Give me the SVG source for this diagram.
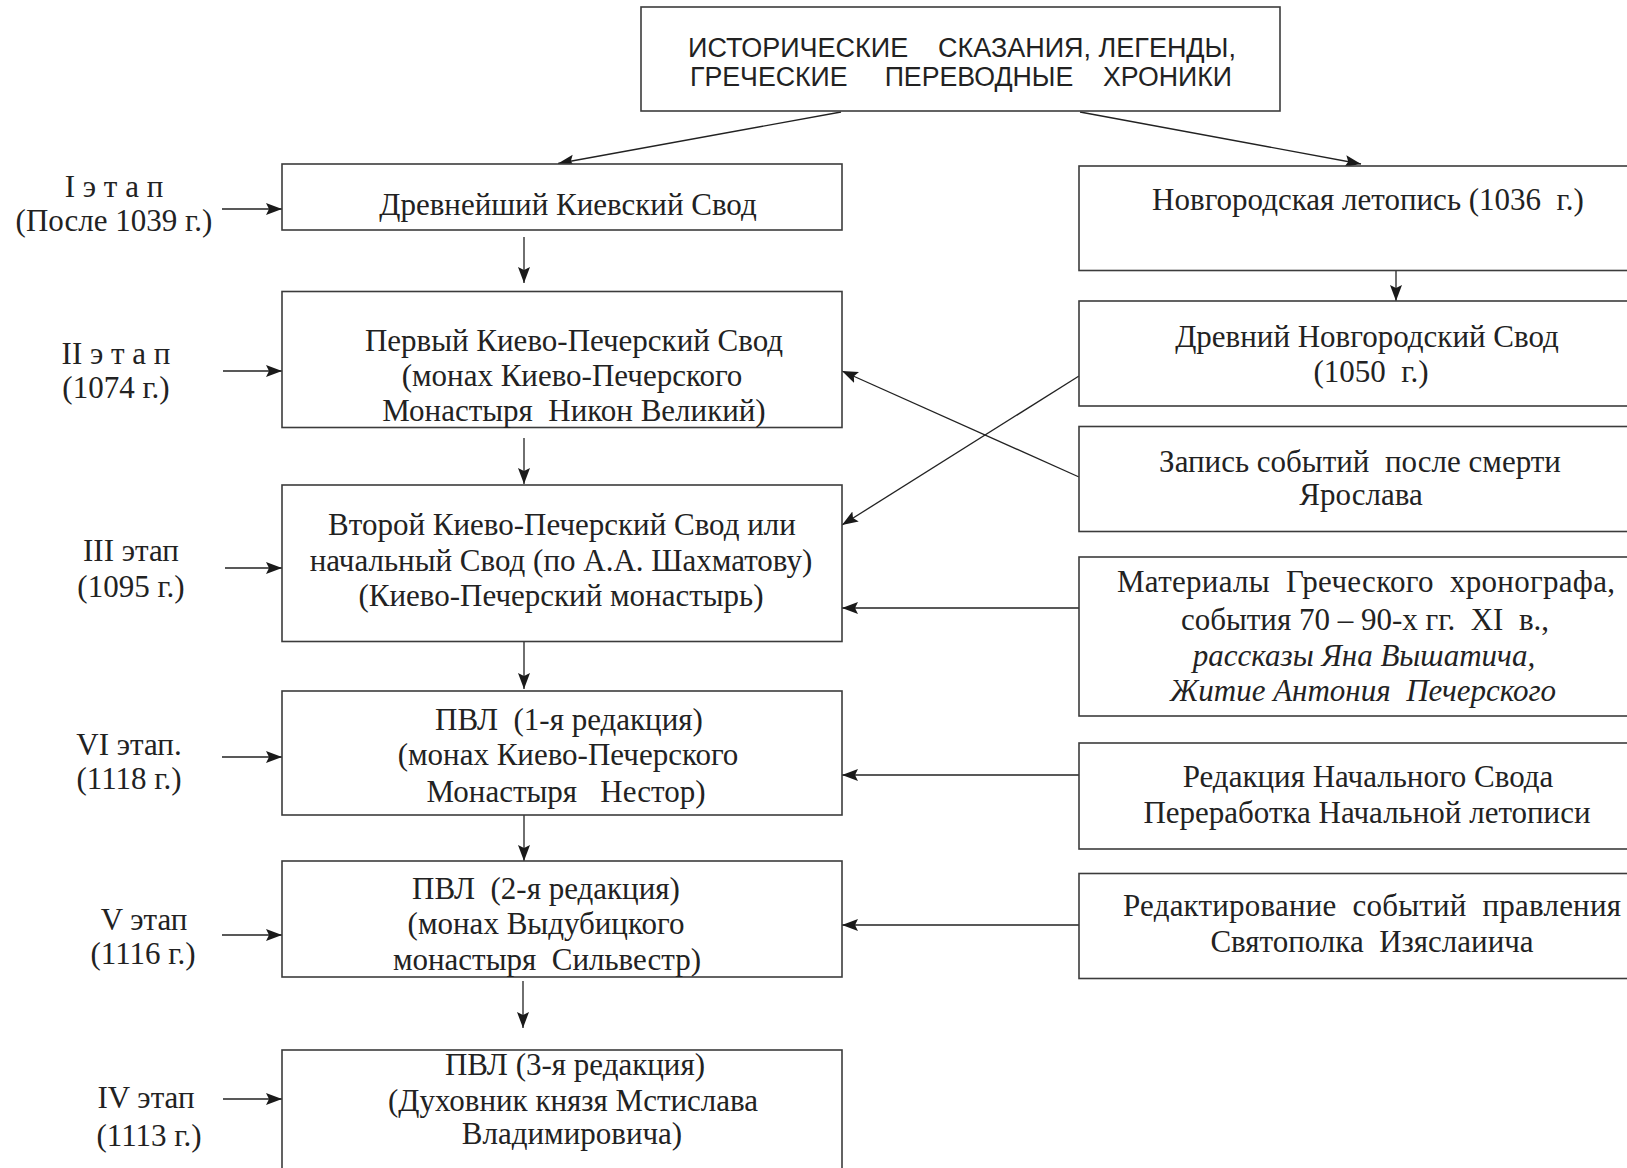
<svg xmlns="http://www.w3.org/2000/svg" width="1627" height="1168" viewBox="0 0 1627 1168">
<style>
.box{fill:#fff;stroke:#3c3c3c;stroke-width:1.6}
.t{font-family:"Liberation Serif","Times New Roman",serif;font-size:31px;fill:#222;text-anchor:middle}
.i{font-style:italic}
.s{font-family:"Liberation Sans",Arial,sans-serif;font-size:27px;fill:#222;text-anchor:middle}
.c{stroke:#222;stroke-width:1.3;fill:none;marker-end:url(#ah)}
</style>
<defs>
<marker id="ah" markerUnits="userSpaceOnUse" markerWidth="17" markerHeight="13" refX="16" refY="6" orient="auto" viewBox="0 0 17 13">
<path d="M0,0 L16,6 L0,12 L3,6 z" fill="#1a1a1a"/>
</marker>
</defs>
<rect width="1627" height="1168" fill="#fff"/>

<g id="connectors">
<line class="c" x1="841" y1="112" x2="558" y2="163.5"/>
<line class="c" x1="1080" y1="112" x2="1361" y2="164"/>
<line class="c" x1="222" y1="209" x2="282" y2="209"/>
<line class="c" x1="223" y1="371" x2="282" y2="371"/>
<line class="c" x1="225" y1="568" x2="282" y2="568"/>
<line class="c" x1="222" y1="757" x2="282" y2="757"/>
<line class="c" x1="222" y1="935" x2="282" y2="935"/>
<line class="c" x1="223" y1="1099" x2="282" y2="1099"/>
<line class="c" x1="524" y1="237" x2="524" y2="283"/>
<line class="c" x1="524" y1="438" x2="524" y2="484"/>
<line class="c" x1="524" y1="642" x2="524" y2="689"/>
<line class="c" x1="524" y1="815" x2="524" y2="861"/>
<line class="c" x1="523" y1="981" x2="523" y2="1028"/>
<line class="c" x1="1396" y1="271" x2="1396" y2="301"/>
<line class="c" x1="1079" y1="477" x2="842" y2="371"/>
<line class="c" x1="1079" y1="376" x2="842" y2="525"/>
<line class="c" x1="1079" y1="608" x2="842" y2="608"/>
<line class="c" x1="1079" y1="775" x2="842" y2="775"/>
<line class="c" x1="1079" y1="925" x2="842" y2="925"/>
</g>

<g id="top">
<rect class="box" x="641" y="7" width="639" height="104"/>
<text class="s" x="962" y="57" textLength="548" lengthAdjust="spacingAndGlyphs" xml:space="preserve">ИСТОРИЧЕСКИЕ    СКАЗАНИЯ, ЛЕГЕНДЫ,</text>
<text class="s" x="961" y="86" textLength="542" lengthAdjust="spacingAndGlyphs" xml:space="preserve">ГРЕЧЕСКИЕ     ПЕРЕВОДНЫЕ    ХРОНИКИ</text>
</g>

<g id="label1">
<text class="t" x="114" y="197" xml:space="preserve">I э т а п</text>
<text class="t" x="114" y="231">(После 1039 г.)</text>
</g>
<g id="label2">
<text class="t" x="116" y="364" xml:space="preserve">II э т а п</text>
<text class="t" x="116" y="398">(1074 г.)</text>
</g>
<g id="label3">
<text class="t" x="131" y="561">III этап</text>
<text class="t" x="131" y="597">(1095 г.)</text>
</g>
<g id="label6">
<text class="t" x="129" y="755">VI этап.</text>
<text class="t" x="129" y="789">(1118 г.)</text>
</g>
<g id="label5">
<text class="t" x="144" y="930">V этап</text>
<text class="t" x="143" y="964">(1116 г.)</text>
</g>
<g id="label4">
<text class="t" x="146" y="1108">IV этап</text>
<text class="t" x="149" y="1146">(1113 г.)</text>
</g>

<g id="kiev-ancient">
<rect class="box" x="282" y="164" width="560" height="66"/>
<text class="t" x="568" y="215">Древнейший Киевский Свод</text>
</g>
<g id="kiev-first">
<rect class="box" x="282" y="291.5" width="560" height="136"/>
<text class="t" x="574" y="351">Первый Киево-Печерский Свод</text>
<text class="t" x="572" y="386">(монах Киево-Печерского</text>
<text class="t" x="574" y="421" xml:space="preserve">Монастыря  Никон Великий)</text>
</g>
<g id="kiev-second">
<rect class="box" x="282" y="485" width="560" height="156.5"/>
<text class="t" x="562" y="535">Второй Киево-Печерский Свод или</text>
<text class="t" x="561" y="571">начальный Свод (по А.А. Шахматову)</text>
<text class="t" x="561" y="606">(Киево-Печерский монастырь)</text>
</g>
<g id="pvl1">
<rect class="box" x="282" y="691" width="560" height="124"/>
<text class="t" x="569" y="730" xml:space="preserve">ПВЛ  (1-я редакция)</text>
<text class="t" x="568" y="765">(монах Киево-Печерского</text>
<text class="t" x="566" y="802" xml:space="preserve">Монастыря   Нестор)</text>
</g>
<g id="pvl2">
<rect class="box" x="282" y="861" width="560" height="116"/>
<text class="t" x="546" y="899" xml:space="preserve">ПВЛ  (2-я редакция)</text>
<text class="t" x="546" y="934">(монах Выдубицкого</text>
<text class="t" x="547" y="970" xml:space="preserve">монастыря  Сильвестр)</text>
</g>
<g id="pvl3">
<rect class="box" x="282" y="1050" width="560" height="140"/>
<text class="t" x="575" y="1075">ПВЛ (3-я редакция)</text>
<text class="t" x="573" y="1111">(Духовник князя Мстислава</text>
<text class="t" x="572" y="1144">Владимировича)</text>
</g>

<g id="novgorod-chronicle">
<rect class="box" x="1079" y="166" width="620" height="104.5"/>
<text class="t" x="1368" y="210" xml:space="preserve">Новгородская летопись (1036  г.)</text>
</g>
<g id="novgorod-ancient">
<rect class="box" x="1079" y="301" width="620" height="105"/>
<text class="t" x="1367" y="347">Древний Новгородский Свод</text>
<text class="t" x="1371" y="382" xml:space="preserve">(1050  г.)</text>
</g>
<g id="yaroslav">
<rect class="box" x="1079" y="426.5" width="620" height="105"/>
<text class="t" x="1360" y="472" xml:space="preserve">Запись событий  после смерти</text>
<text class="t" x="1361" y="505">Ярослава</text>
</g>
<g id="materials">
<rect class="box" x="1079" y="557" width="620" height="159"/>
<text class="t" x="1366" y="592" textLength="498" lengthAdjust="spacing" xml:space="preserve">Материалы  Греческого  хронографа,</text>
<text class="t" x="1365" y="630" xml:space="preserve">события 70 – 90-х гг.  XI  в.,</text>
<text class="t i" x="1364" y="666">рассказы Яна Вышатича,</text>
<text class="t i" x="1363" y="701" xml:space="preserve">Житие Антония  Печерского</text>
</g>
<g id="redaction">
<rect class="box" x="1079" y="743" width="620" height="106"/>
<text class="t" x="1368" y="787">Редакция Начального Свода</text>
<text class="t" x="1367" y="823">Переработка Начальной летописи</text>
</g>
<g id="editing">
<rect class="box" x="1079" y="873.5" width="620" height="105"/>
<text class="t" x="1372" y="916" textLength="498" lengthAdjust="spacing" xml:space="preserve">Редактирование  событий  правления</text>
<text class="t" x="1372" y="952" xml:space="preserve">Святополка  Изяслаиича</text>
</g>
</svg>
